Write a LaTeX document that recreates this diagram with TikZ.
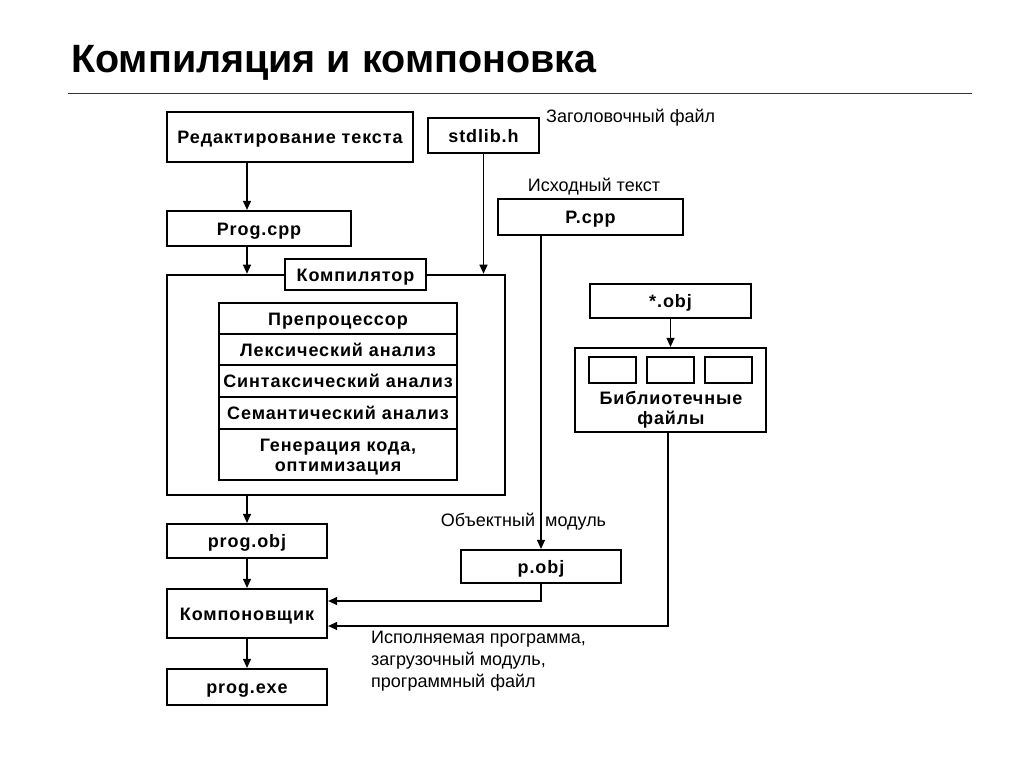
\documentclass[tikz,border=0pt]{standalone}
\usepackage{fontspec}
\setmainfont{Liberation Sans}
\newfontfamily\boxfont[LetterSpace=5]{Liberation Sans}
\usetikzlibrary{arrows.meta}

\tikzset{
	box/.style={draw,line width=2.2pt,inner sep=0pt,align=center,text height=13pt,text depth=0pt,font=\fontsize{18}{20}\boxfont\bfseries},
	twolines/.style={text height=,text depth=,yshift=-2.5pt},
	note/.style={inner sep=0pt,align=left,font=\fontsize{18}{22}\selectfont},
	arr/.style={line width=1.2pt,-{Triangle[length=9pt,width=8pt]}},
}

\begin{document}
\begin{tikzpicture}[x=1pt,y=-1pt]

	\fill[white] (0,0) rectangle (1024,768);
	\useasboundingbox (0,0) rectangle (1024,768);

	\node[inner sep=0pt,anchor=base west,font=\fontsize{39.5}{42}\selectfont\bfseries] (title) at (71,72.5) {Компиляция и компоновка};
	\draw[black!80,line width=1.6pt] (68,93.3) -- (972,93.3);

	\coordinate (col) at (247,0);

	% left column
	\node[box,minimum width=246,minimum height=50] (edit) at (290,137) {Редактирование текста};
	\node[box,minimum width=184,minimum height=35] (progcpp) at (259,228.5) {Prog.cpp};
	\node[draw,line width=2.6pt,minimum width=338,minimum height=220] (comp) at (336,385) {};
	\node[box,fill=white,line width=1.6pt,minimum width=141,minimum height=31] (complabel) at (355.5,274.5) {Компилятор};
	\node[box,minimum width=160,minimum height=34] (progobj) at (247,541) {prog.obj};
	\node[box,minimum width=160,minimum height=49] (linker) at (247,613.5) {Компоновщик};
	\node[box,minimum width=160,minimum height=36] (progexe) at (247,687) {prog.exe};

	% compiler stages
	\node[box,minimum width=238,minimum height=31] (pre) at (338,318.5) {Препроцессор};
	\node[box,minimum width=238,minimum height=31] (lex) at (338,349.5) {Лексический анализ};
	\node[box,minimum width=238,minimum height=32] (syn) at (338,381) {Синтаксический анализ};
	\node[box,minimum width=238,minimum height=32] (sem) at (338,413) {Семантический анализ};
	\node[box,minimum width=238,minimum height=51] (gen) at (338,454.5) {};
	\node[box,draw=none,twolines] (gentext) at (gen.center) {Генерация кода,\\оптимизация};

	% right side
	\node[box,minimum width=111,minimum height=35] (stdlib) at (483.5,135.5) {stdlib.h};
	\node[note,anchor=west] (hdrnote) at (546,118) {Заголовочный файл};
	\node[box,minimum width=185,minimum height=36] (pcpp) at (590.5,217) {P.cpp};
	\node[note] (srcnote) at (594,187) {Исходный текст};
	\node[box,minimum width=161,minimum height=34] (anyobj) at (670.5,301) {*.obj};
	\node[box,minimum width=191,minimum height=84] (lib) at (670.5,390) {};
	\foreach \i/\xc in {1/612.5,2/670.5,3/728.5}
		\node[draw,line width=1.8pt,minimum width=47,minimum height=26] (slot\i) at (\xc,370) {};
	\node[box,draw=none,twolines] (libtext) at (671,407) {Библиотечные\\файлы};
	\node[box,minimum width=160,minimum height=33] (pobj) at (541,566.5) {p.obj};
	\node[note] (objnote) at (523.5,522) {Объектный\ \ модуль};
	\node[note,anchor=north west] (exenote) at (371,631) {Исполняемая программа,\\загрузочный модуль,\\программный файл};

	% connectors
	\draw[arr] (edit.south -| col) -- (progcpp.north -| col);
	\draw[arr] (progcpp.south -| col) -- (comp.north -| col);
	\draw[arr] (stdlib.south) -- (stdlib.south |- comp.north);
	\draw[arr] (comp.south -| col) -- (progobj.north);
	\draw[arr] (progobj.south) -- (linker.north);
	\draw[arr] (linker.south) -- (progexe.north);
	\draw[arr] (pcpp.south -| pobj.north) -- (pobj.north);
	\draw[arr] (anyobj.south) -- (lib.north);
	\draw[arr] (pobj.south) |- ([yshift=12.5pt]linker.east);
	\draw[arr] ([xshift=-2.5pt]lib.south) |- ([yshift=-12.5pt]linker.east);

\end{tikzpicture}
\end{document}
